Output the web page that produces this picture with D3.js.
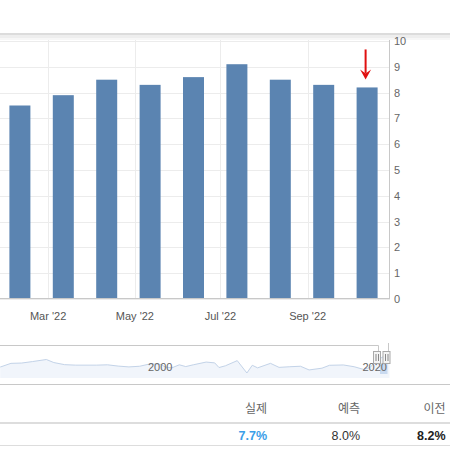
<!DOCTYPE html>
<html>
<head>
<meta charset="utf-8">
<script src="https://cdn.jsdelivr.net/npm/d3@7/dist/d3.min.js"></script>
<style>
  html, body { margin: 0; padding: 0; background: #fff; }
  svg { display: block; font-family: "Liberation Sans", Arial, sans-serif; }
</style>
</head>
<body>
<svg id="chart" width="450" height="450"></svg>
<script>
// ---- data ----
const months = ["Jan '22", "Feb '22", "Mar '22", "Apr '22", "May '22", "Jun '22", "Jul '22", "Aug '22", "Sep '22"];
const values = [7.5, 7.9, 8.5, 8.3, 8.6, 9.1, 8.5, 8.3, 8.2];
const xTickLabels = ["Mar '22", "May '22", "Jul '22", "Sep '22"];
const xTickPos = [0.65, 2.65, 4.62, 6.63];   // position on the month-index axis
const yTicks = [0, 1, 2, 3, 4, 5, 6, 7, 8, 9, 10];

// navigator: long-run history (year, value)
const navYears  = [1986.5, 1987.5, 1988.5, 1989.5, 1990.8, 1991.5, 1992.5, 1993.5, 1994.5, 1995.5, 1996.5, 1997.5, 1998.5, 1999.5, 2000.5, 2001.5, 2001.9, 2002.5, 2003.2, 2003.8, 2004.5, 2005.7, 2006.5, 2006.9, 2007.5, 2008.6, 2009.5, 2010.0, 2010.5, 2011.7, 2012.5, 2013.5, 2014.5, 2015.3, 2016.5, 2017.2, 2018.5, 2019.5, 2020.4, 2021.0, 2021.5, 2022.5, 2022.8];
const navValues = [1.6, 3.9, 4.1, 5.0, 6.3, 4.4, 3.1, 2.8, 2.8, 2.8, 3.0, 2.2, 1.7, 2.1, 3.6, 3.2, 1.6, 1.1, 3.0, 1.9, 3.0, 4.7, 4.2, 1.3, 2.4, 5.6, -2.1, 2.7, 1.1, 3.9, 1.4, 1.8, 2.1, -0.2, 0.9, 2.7, 2.9, 1.8, 0.1, 1.4, 5.4, 9.1, 8.2];
const navTickYears = [2000, 2020];

// table
const tableHeaders = ["실제", "예측", "이전"];
const tableValues = ["7.7%", "8.0%", "8.2%"];

// ---- drawing ----
const svg = d3.select("#chart");

// top border band
svg.append("rect").attr("x", 0).attr("y", 33).attr("width", 450).attr("height", 2).attr("fill", "#dcdcdc");
svg.append("rect").attr("x", 0).attr("y", 35).attr("width", 450).attr("height", 3).attr("fill", "#eeeeee");
svg.append("rect").attr("x", 0).attr("y", 38).attr("width", 450).attr("height", 2).attr("fill", "#f7f7f7");

const x = d3.scaleLinear().domain([-0.5, 8.5]).range([-1.8, 388.8]);
const y = d3.scaleLinear().domain([0, 10]).range([299, 41]);
const plotTop = 40, plotBottom = 299, plotRight = 390;

// horizontal gridlines
svg.append("g").selectAll("line").data(yTicks).join("line")
  .attr("x1", 0).attr("x2", plotRight)
  .attr("y1", d => Math.round(y(d)) + 0.5).attr("y2", d => Math.round(y(d)) + 0.5)
  .attr("stroke", "#ececec").attr("stroke-width", 1);

// vertical gridlines
svg.append("g").selectAll("line").data(xTickPos).join("line")
  .attr("x1", d => Math.round(x(d)) + 0.5).attr("x2", d => Math.round(x(d)) + 0.5)
  .attr("y1", plotTop).attr("y2", plotBottom)
  .attr("stroke", "#ececec").attr("stroke-width", 1);

// bars
const barW = 21;
svg.append("g").selectAll("rect").data(values).join("rect")
  .attr("x", (d, i) => x(i) - barW / 2)
  .attr("y", d => y(d))
  .attr("width", barW)
  .attr("height", d => y(0) - y(d))
  .attr("fill", "#5b84b1");

// axis lines
svg.append("line").attr("x1", 0).attr("x2", plotRight).attr("y1", 298.5).attr("y2", 298.5)
  .attr("stroke", "#c8c8c8");
svg.append("line").attr("x1", 389.5).attr("x2", 389.5).attr("y1", plotTop).attr("y2", 299)
  .attr("stroke", "#c8c8c8");

// y labels
svg.append("g").selectAll("text").data(yTicks).join("text")
  .attr("x", 394).attr("y", d => y(d) + 4)
  .attr("font-size", 11).attr("fill", "#666")
  .text(d => d);

// x labels
svg.append("g").selectAll("text").data(xTickPos).join("text")
  .attr("x", d => x(d)).attr("y", 319.5)
  .attr("text-anchor", "middle")
  .attr("font-size", 11).attr("fill", "#555")
  .text((d, i) => xTickLabels[i]);

// red arrow over last bar
const lastI = values.length - 1;
const ax = x(lastI) - 1.5, tipY = y(values[lastI]) - 8;
svg.append("line").attr("x1", ax).attr("x2", ax).attr("y1", tipY - 30).attr("y2", tipY - 6)
  .attr("stroke", "#e01010").attr("stroke-width", 2);
svg.append("path")
  .attr("d", `M${ax - 5.5},${tipY - 10} L${ax},${tipY} L${ax + 5.5},${tipY - 10} L${ax},${tipY - 6} Z`)
  .attr("fill", "#e01010");

// ---- navigator ----
const nx = d3.scaleLinear().domain([2000, 2020]).range([145, 359.5]);
const ny = d3.scaleLinear().domain([-2.1, 9.1]).range([373, 355]);
const navData = navYears.map((yr, i) => [yr, navValues[i]]);

svg.append("path").datum(navData)
  .attr("d", d3.area().x(d => nx(d[0])).y0(378).y1(d => ny(d[1])))
  .attr("fill", "#f1f5fb");
svg.append("path").datum(navData)
  .attr("d", d3.line().x(d => nx(d[0])).y(d => ny(d[1])))
  .attr("fill", "none").attr("stroke", "#c3d3e8").attr("stroke-width", 1);

// selected zone mask
svg.append("rect").attr("x", 380).attr("y", 363).attr("width", 7.5).attr("height", 11)
  .attr("fill", "#c9daf0");

// nav labels
svg.append("g").selectAll("text").data(navTickYears).join("text")
  .attr("x", d => nx(d) + 3).attr("y", 370.5)
  .attr("font-size", 11).attr("fill", "#666")
  .text(d => d);

// outline
svg.append("path").attr("d", "M0,345.5 H378.5 V351").attr("fill", "none").attr("stroke", "#c8c8c8");
svg.append("path").attr("d", "M388.5,343 V351").attr("fill", "none").attr("stroke", "#c8c8c8");
svg.append("line").attr("x1", 0).attr("x2", 450).attr("y1", 384.5).attr("y2", 384.5).attr("stroke", "#c8c8c8");

// handles
[377, 386.5].forEach(cx => {
  const g = svg.append("g");
  g.append("rect").attr("x", cx - 3.5).attr("y", 351.5).attr("width", 7).attr("height", 12)
    .attr("fill", "#f4f4f4").attr("stroke", "#aaa").attr("stroke-width", 1);
  g.append("line").attr("x1", cx - 1).attr("x2", cx - 1).attr("y1", 354).attr("y2", 361).attr("stroke", "#888");
  g.append("line").attr("x1", cx + 1.5).attr("x2", cx + 1.5).attr("y1", 354).attr("y2", 361).attr("stroke", "#888");
});

// ---- table ----
const colRight = [267, 360, 445.5];
svg.append("g").selectAll("text").data(tableHeaders).join("text")
  .attr("x", (d, i) => colRight[i]).attr("y", 413)
  .attr("text-anchor", "end")
  .attr("font-family", "'Noto Sans CJK KR', sans-serif")
  .attr("font-size", 12).attr("fill", "#666")
  .text(d => d);
svg.append("rect").attr("x", 0).attr("y", 422).attr("width", 450).attr("height", 2).attr("fill", "#dddddd");
svg.append("g").selectAll("text").data(tableValues).join("text")
  .attr("x", (d, i) => colRight[i]).attr("y", 439.5)
  .attr("text-anchor", "end")
  .attr("font-size", 12.5)
  .attr("font-weight", (d, i) => i === 1 ? "normal" : "bold")
  .attr("fill", (d, i) => i === 0 ? "#3b9ee8" : (i === 1 ? "#333" : "#222"))
  .text(d => d);
svg.append("line").attr("x1", 0).attr("x2", 450).attr("y1", 445.5).attr("y2", 445.5).attr("stroke", "#dddddd");
</script>
</body>
</html>
